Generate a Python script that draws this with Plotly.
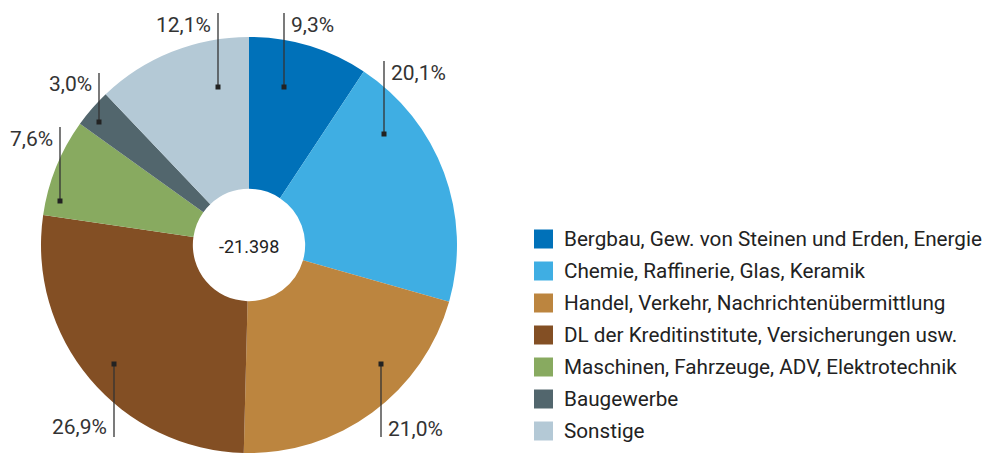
import plotly.graph_objects as go

# Daten
sektoren = ['Bergbau, Gew. von Steinen und Erden, Energie',
            'Chemie, Raffinerie, Glas, Keramik',
            'Handel, Verkehr, Nachrichtenübermittlung',
            'DL der Kreditinstitute, Versicherungen usw.',
            'Maschinen, Fahrzeuge, ADV, Elektrotechnik',
            'Baugewerbe',
            'Sonstige']
anteile = [9.3, 20.1, 21.0, 26.9, 7.6, 3.0, 12.1]
summe = '-21.398'

farben = ['#0071b9', '#3faee3', '#bc853f', '#834f24', '#88aa60', '#52666d', '#b4c9d6']

# Beschriftung: (Linie x, Linie y von, Linie y bis, Marker y, Text-Seite, Text y) in Pixel
W, H = 988, 453
beschr = [
    (284, 13, 87, 87, 'r', 25),
    (384, 61, 134, 134, 'r', 73),
    (381, 364, 437, 364, 'r', 429),
    (114, 364, 437, 364, 'l', 427),
    (60, 127, 201, 201, 'l', 139),
    (99, 73, 122, 122, 'l', 84),
    (218, 13, 87, 87, 'l', 25),
]

def px(x):
    return x / W

def py(y):
    return 1 - y / H

FONT = 'Roboto, sans-serif'

fig = go.Figure()
fig.add_trace(go.Pie(labels=sektoren, values=anteile, sort=False, direction='clockwise', rotation=0,
                     hole=0.27, textinfo='none', marker=dict(colors=farben, line=dict(width=0)),
                     domain=dict(x=[px(40), px(458)], y=[0, py(37)]), showlegend=False))

shapes = []
annots = []
for v, (lx, y0, y1, my, seite, ty) in zip(anteile, beschr):
    shapes.append(dict(type='line', xref='paper', yref='paper', x0=px(lx), x1=px(lx), y0=py(y0), y1=py(y1),
                       line=dict(color='#333333', width=1.3)))
    shapes.append(dict(type='rect', xref='paper', yref='paper', x0=px(lx - 2.5), x1=px(lx + 2.5),
                       y0=py(my - 2.5), y1=py(my + 2.5), fillcolor='#222222', line=dict(width=0)))
    txt = f'{v:.1f}'.replace('.', ',') + '%'
    annots.append(dict(text=txt, xref='paper', yref='paper', showarrow=False,
                       x=px(lx + 5) if seite == 'r' else px(lx - 5), y=py(ty),
                       xanchor='left' if seite == 'r' else 'right', yanchor='middle',
                       font=dict(family=FONT, size=21, color='#333333')))

annots.append(dict(text=summe, xref='paper', yref='paper', showarrow=False, x=px(249), y=py(246),
                   xanchor='center', yanchor='middle',
                   font=dict(family=FONT, size=18, color='#222222')))

# Legende
for i, (name, f) in enumerate(zip(sektoren, farben)):
    yc = 239 + 32 * i
    shapes.append(dict(type='rect', xref='paper', yref='paper', x0=px(534), x1=px(553),
                       y0=py(yc - 9.5), y1=py(yc + 9.5), fillcolor=f, line=dict(width=0)))
    annots.append(dict(text=name, xref='paper', yref='paper', showarrow=False, x=px(562), y=py(yc),
                       xanchor='left', yanchor='middle',
                       font=dict(family=FONT, size=20.7, color='#222222')))

fig.update_layout(shapes=shapes, annotations=annots, width=W, height=H,
                  margin=dict(l=0, r=0, t=0, b=0), paper_bgcolor='white', plot_bgcolor='white')
fig.write_html('out.html', config={'displayModeBar': False},
               post_script="document.body.style.margin='0';")
